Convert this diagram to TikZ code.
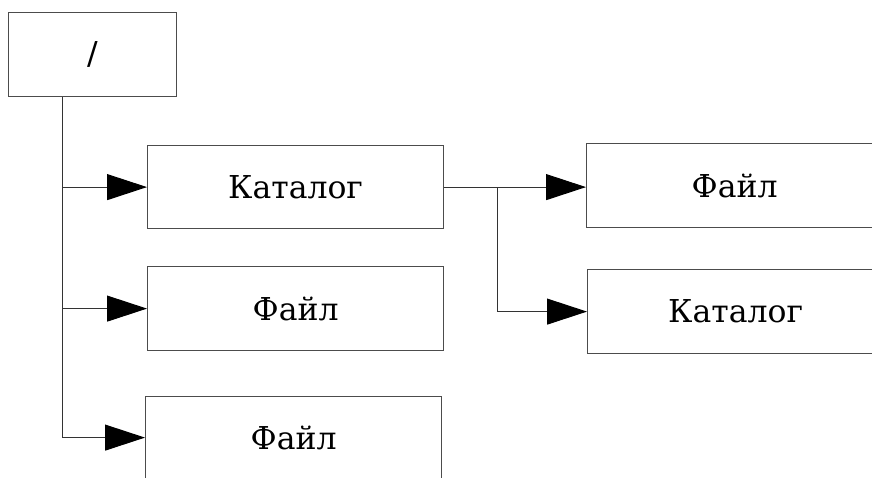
\documentclass[tikz,border=0pt]{standalone}
\usepackage{fontspec}
\setmainfont{DejaVu Serif}
\newfontfamily\slashfont{DejaVu Sans}
\usetikzlibrary{arrows.meta}
\begin{document}
\begin{tikzpicture}[x=1pt,y=-1pt,
  box/.style={draw=black!70, line width=1.2pt, anchor=north west, inner sep=0pt,
    minimum width=296pt, minimum height=84pt, font=\fontsize{31.5}{38}\selectfont},
  conn/.style={draw=black!80, line width=1pt},
  arr/.style={conn, -{Triangle[length=40pt,width=26pt,black]}}]
\useasboundingbox (0,0) rectangle (872,477);
\node[box, minimum width=168pt] (root) at (8,12) {\slashfont /};
\node[box, minimum height=83pt] (kat) at (147,145) {Каталог};
\node[box] (f2) at (147,266) {Файл};
\node[box, minimum height=82pt] (f3) at (145,396) {Файл};
\node[box] (rf) at (586,143) {Файл};
\node[box] (rk) at (587,269) {Каталог};
\coordinate (tx) at (62,0);
\coordinate (bx) at (497,0);
\draw[conn] (root.south -| tx) -- (f3.west -| tx);
\draw[arr] (kat.west -| tx) -- (kat.west);
\draw[arr] (f2.west -| tx) -- (f2.west);
\draw[arr] (f3.west -| tx) -- (f3.west);
\draw[arr] (kat.east) -- (kat.east -| rf.west);
\draw[conn] (kat.east -| bx) -- (rk.west -| bx);
\draw[arr] (rk.west -| bx) -- (rk.west);
\end{tikzpicture}
\end{document}
